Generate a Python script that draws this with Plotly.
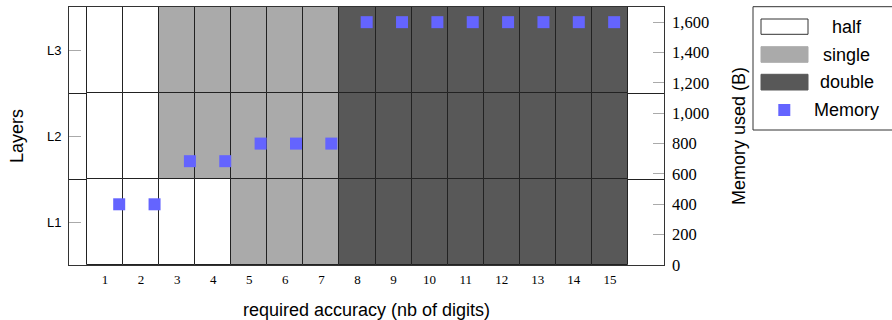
import plotly.graph_objects as go

# ---------------- data ----------------
columns = [1, 2, 3, 4, 5, 6, 7, 8, 9, 10, 11, 12, 13, 14, 15]
layers = ["L1", "L2", "L3"]
precision_L1 = ["half", "half", "half", "half", "single", "single", "single",
                "double", "double", "double", "double", "double", "double", "double", "double"]
precision_L2 = ["half", "half", "single", "single", "single", "single", "single",
                "double", "double", "double", "double", "double", "double", "double", "double"]
precision_L3 = ["half", "half", "single", "single", "single", "single", "single",
                "double", "double", "double", "double", "double", "double", "double", "double"]
memory = [400, 400, 684, 684, 800, 800, 800, 1600, 1600, 1600, 1600, 1600, 1600, 1600, 1600]
memory_ticks = [0, 200, 400, 600, 800, 1000, 1200, 1400, 1600]
precision_names = ["half", "single", "double"]

# ---------------- style ----------------
colors = {"half": "#ffffff", "single": "#aaaaaa", "double": "#585858"}
mem_color = "#6464ff"
SANS = "Liberation Sans"
SERIF = "Liberation Serif"
W, H = 892, 320
ML, MR, MT, MB = 69, 228, 7, 55
PW = W - ML - MR
PH = H - MT - MB


def px(xp):
    return (xp - ML) / PW


def py(yp):
    return (H - MB - yp) / PH


fig = go.Figure()

grid = [precision_L1, precision_L2, precision_L3]
for p in precision_names:
    xs, bases = [], []
    for li, row in enumerate(grid):
        for c, v in zip(columns, row):
            if v == p:
                xs.append(c)
                bases.append(li + 1 - 0.5)
    fig.add_trace(go.Bar(
        x=xs, y=[1] * len(xs), base=bases, width=1, name=p,
        marker=dict(color=colors[p], line=dict(color="#222222", width=1)),
        xaxis="x", yaxis="y", showlegend=False, hoverinfo="skip"))

fig.add_trace(go.Scatter(
    x=columns, y=memory, mode="markers", name="Memory",
    marker=dict(symbol="square", size=12, color=mem_color, line=dict(width=0)),
    xaxis="x2", yaxis="y2", showlegend=False))

# ---------------- custom legend ----------------
shapes = []
annotations = []
shapes.append(dict(type="rect", xref="paper", yref="paper",
                   x0=px(753), x1=px(905), y0=py(130), y1=py(6.7),
                   line=dict(color="#333333", width=1), fillcolor="white", layer="above"))
sw = [(19, 34.3), (46.7, 62.3), (74.3, 90)]
for p, (a, b) in zip(precision_names, sw):
    shapes.append(dict(type="rect", xref="paper", yref="paper",
                       x0=px(761), x1=px(808), y0=py(b), y1=py(a),
                       line=dict(color="#333333" if p == "half" else colors[p], width=1),
                       fillcolor=colors[p], layer="above"))
    annotations.append(dict(xref="paper", yref="paper", x=px(846.5), y=py((a + b) / 2),
                            text=p, showarrow=False, xanchor="center", yanchor="middle",
                            font=dict(family=SANS, size=18, color="black")))
shapes.append(dict(type="rect", xref="paper", yref="paper",
                   x0=px(778.3), x1=px(790.3), y0=py(116), y1=py(104),
                   line=dict(width=0), fillcolor=mem_color, layer="above"))
annotations.append(dict(xref="paper", yref="paper", x=px(846.5), y=py(109.5),
                        text="Memory", showarrow=False, xanchor="center", yanchor="middle",
                        font=dict(family=SANS, size=18, color="black")))

fig.update_layout(
    width=W, height=H,
    margin=dict(l=ML, r=MR, t=MT, b=MB, autoexpand=False),
    paper_bgcolor="white", plot_bgcolor="white",
    barmode="overlay", bargap=0,
    showlegend=False,
    shapes=shapes, annotations=annotations,
    xaxis=dict(
        range=[0, 16.5], tickvals=columns, ticktext=[str(c) for c in columns],
        tickfont=dict(family=SERIF, size=13, color="black"),
        showline=True, mirror=True, linecolor="#333333", linewidth=1,
        ticks="", showgrid=False, zeroline=False, ticklabelstandoff=2,
        title=dict(text="required accuracy (nb of digits)", standoff=18,
                   font=dict(family=SANS, size=18, color="black")),
    ),
    yaxis=dict(
        range=[0.5, 3.5], tickvals=[1, 2, 3], ticktext=layers,
        tickfont=dict(family=SANS, size=13, color="black"),
        ticks="inside", ticklen=12, tickcolor="#aaaaaa", tickwidth=1,
        showline=True, mirror=True, linecolor="#333333", linewidth=1,
        showgrid=False, zeroline=False, ticklabelstandoff=4,
        minor=dict(tickvals=[1.5, 2.5], showgrid=True, gridcolor="#222222", gridwidth=1, ticks=""),
        title=dict(text="Layers", standoff=18, font=dict(family=SANS, size=18, color="black")),
    ),
    xaxis2=dict(overlaying="x", range=[-0.42, 16.41], visible=False, anchor="y2"),
    yaxis2=dict(
        overlaying="y", side="right", anchor="x", range=[0, 1700],
        tickvals=memory_ticks, tickformat=",",
        tickfont=dict(family=SERIF, size=16.5, color="black"),
        ticks="inside", ticklen=11, tickcolor="#aaaaaa", tickwidth=1,
        showgrid=False, zeroline=False, showline=False, ticklabelstandoff=7,
        title=dict(text="Memory used (B)", standoff=24, font=dict(family=SANS, size=18, color="black")),
    ),
)

fig.write_html("out.html", config={"displayModeBar": False},
               post_script="document.body.style.margin='0';document.body.style.padding='0';")
